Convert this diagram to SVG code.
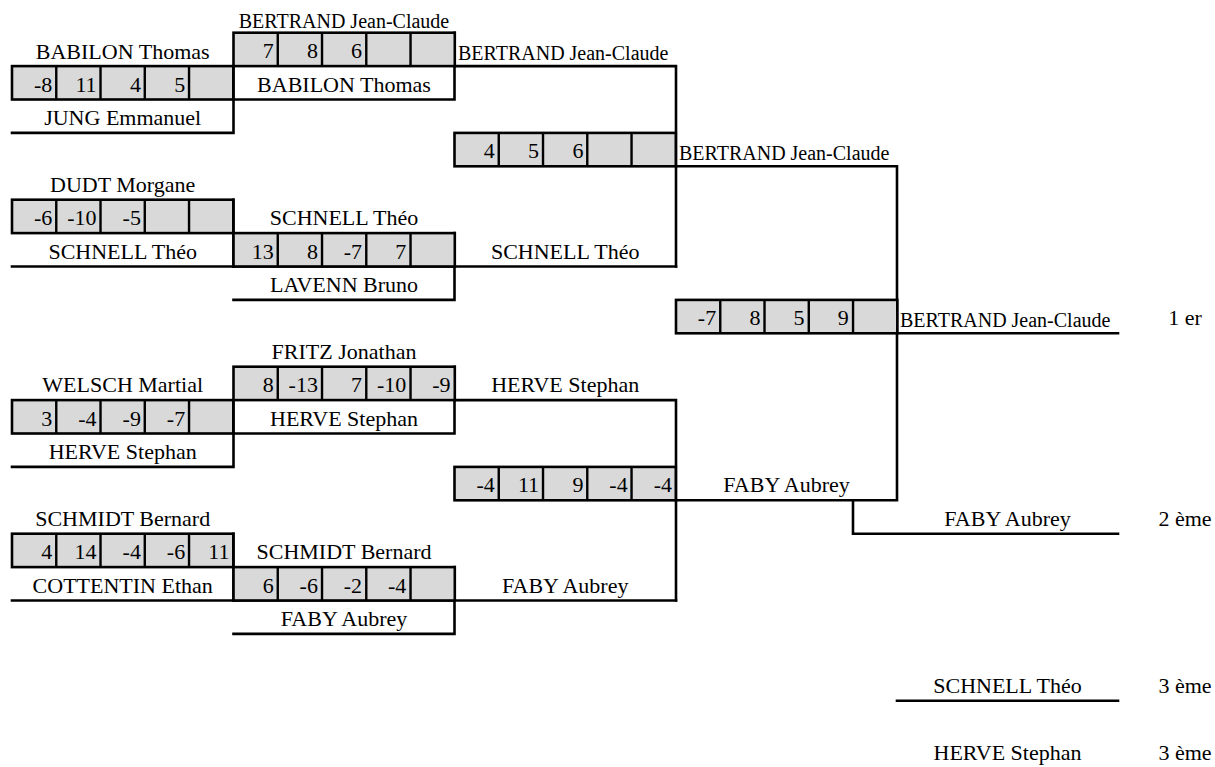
<svg xmlns="http://www.w3.org/2000/svg" xmlns:xlink="http://www.w3.org/1999/xlink" width="1215" height="767" viewBox="0 0 1215 767">
<defs>
<style>
.t{font-family:'Liberation Serif','Times New Roman',Times,serif;font-size:22px;fill:#000}
.s{font-size:20px}
.c{text-anchor:middle}
.n{text-anchor:end}
.ln{fill:none;stroke:#000;stroke-width:2.6;stroke-linecap:square;stroke-linejoin:miter}
.box{fill:#d9d9d9;stroke:#000;stroke-width:2.6}
.div{stroke:#000;stroke-width:2.4}
</style>
<g id="cells">
<rect class="box" x="0" y="0" width="221.3" height="33.4"/>
<path class="div" d="M44.26 0V33.4M88.52 0V33.4M132.78 0V33.4M177.04 0V33.4"/>
</g>
</defs>
<rect width="1215" height="767" fill="#fff"/>

<g id="connectors">
<path class="ln" d="M12 132.9H233.5V66.1"/>
<path class="ln" d="M12 266.5H676"/>
<path class="ln" d="M233.5 199.7V266.5"/>
<path class="ln" d="M12 466.9H233.5V400.1"/>
<path class="ln" d="M12 600.5H676"/>
<path class="ln" d="M233.5 533.7V600.5"/>
<path class="ln" d="M233.5 99.5H454.5V32.7"/>
<path class="ln" d="M233.5 299.9H454.5V233.1"/>
<path class="ln" d="M233.5 433.5H454.5V366.7"/>
<path class="ln" d="M233.5 633.9H454.5V567.1"/>
<path class="ln" d="M454.5 66.1H676V266.5"/>
<path class="ln" d="M454.5 400.1H676V600.5"/>
<path class="ln" d="M676 166.3H897V500.3H676"/>
<path class="ln" d="M897 333.3H1118"/>
<path class="ln" d="M853 500.3V533.7H1118"/>
<path class="ln" d="M897 700.7H1118"/>
</g>

<g id="r1-m1">
<text class="t c" x="122.7" y="58.6">BABILON Thomas</text>
<use xlink:href="#cells" x="12" y="66.1"/>
<text class="t n" x="52.3" y="91.6">-8</text>
<text class="t n" x="96.6" y="91.6">11</text>
<text class="t n" x="140.9" y="91.6">4</text>
<text class="t n" x="185.2" y="91.6">5</text>
<text class="t c" x="122.7" y="124.5">JUNG Emmanuel</text>
</g>

<g id="r1-m2">
<text class="t c" x="122.7" y="191.8">DUDT Morgane</text>
<use xlink:href="#cells" x="12" y="199.7"/>
<text class="t n" x="52.3" y="225.2">-6</text>
<text class="t n" x="96.6" y="225.2">-10</text>
<text class="t n" x="140.9" y="225.2">-5</text>
<text class="t c" x="122.7" y="258.6">SCHNELL Théo</text>
</g>

<g id="r1-m3">
<text class="t c" x="122.7" y="392.2">WELSCH Martial</text>
<use xlink:href="#cells" x="12" y="400.1"/>
<text class="t n" x="52.3" y="425.6">3</text>
<text class="t n" x="96.6" y="425.6">-4</text>
<text class="t n" x="140.9" y="425.6">-9</text>
<text class="t n" x="185.2" y="425.6">-7</text>
<text class="t c" x="122.7" y="459">HERVE Stephan</text>
</g>

<g id="r1-m4">
<text class="t c" x="122.7" y="525.8">SCHMIDT Bernard</text>
<use xlink:href="#cells" x="12" y="533.7"/>
<text class="t n" x="52.3" y="559.2">4</text>
<text class="t n" x="96.6" y="559.2">14</text>
<text class="t n" x="140.9" y="559.2">-4</text>
<text class="t n" x="185.2" y="559.2">-6</text>
<text class="t n" x="229.5" y="559.2">11</text>
<text class="t c" x="122.7" y="592.6">COTTENTIN Ethan</text>
</g>

<g id="r2-m1">
<text class="t s c" x="344" y="27.5">BERTRAND Jean-Claude</text>
<use xlink:href="#cells" x="233.5" y="32.7"/>
<text class="t n" x="273.7" y="58.2">7</text>
<text class="t n" x="317.9" y="58.2">8</text>
<text class="t n" x="362.1" y="58.2">6</text>
<text class="t c" x="344" y="91.6">BABILON Thomas</text>
</g>

<g id="r2-m2">
<text class="t c" x="344" y="225.2">SCHNELL Théo</text>
<use xlink:href="#cells" x="233.5" y="233.1"/>
<text class="t n" x="273.7" y="258.6">13</text>
<text class="t n" x="317.9" y="258.6">8</text>
<text class="t n" x="362.1" y="258.6">-7</text>
<text class="t n" x="406.3" y="258.6">7</text>
<text class="t c" x="344" y="292">LAVENN Bruno</text>
</g>

<g id="r2-m3">
<text class="t c" x="344" y="358.8">FRITZ Jonathan</text>
<use xlink:href="#cells" x="233.5" y="366.7"/>
<text class="t n" x="273.7" y="392.2">8</text>
<text class="t n" x="317.9" y="392.2">-13</text>
<text class="t n" x="362.1" y="392.2">7</text>
<text class="t n" x="406.3" y="392.2">-10</text>
<text class="t n" x="450.5" y="392.2">-9</text>
<text class="t c" x="344" y="425.6">HERVE Stephan</text>
</g>

<g id="r2-m4">
<text class="t c" x="344" y="559.2">SCHMIDT Bernard</text>
<use xlink:href="#cells" x="233.5" y="567.1"/>
<text class="t n" x="273.7" y="592.6">6</text>
<text class="t n" x="317.9" y="592.6">-6</text>
<text class="t n" x="362.1" y="592.6">-2</text>
<text class="t n" x="406.3" y="592.6">-4</text>
<text class="t c" x="344" y="626">FABY Aubrey</text>
</g>

<g id="r3-m1">
<text class="t s" x="458" y="60.2">BERTRAND Jean-Claude</text>
<use xlink:href="#cells" x="454.5" y="132.9"/>
<text class="t n" x="494.8" y="158.4">4</text>
<text class="t n" x="539.1" y="158.4">5</text>
<text class="t n" x="583.4" y="158.4">6</text>
<text class="t c" x="565.2" y="258.6">SCHNELL Théo</text>
</g>

<g id="r3-m2">
<text class="t c" x="565.2" y="392.2">HERVE Stephan</text>
<use xlink:href="#cells" x="454.5" y="466.9"/>
<text class="t n" x="494.8" y="492.4">-4</text>
<text class="t n" x="539.1" y="492.4">11</text>
<text class="t n" x="583.4" y="492.4">9</text>
<text class="t n" x="627.7" y="492.4">-4</text>
<text class="t n" x="672" y="492.4">-4</text>
<text class="t c" x="565.2" y="592.6">FABY Aubrey</text>
</g>

<g id="final">
<text class="t s" x="679" y="160.4">BERTRAND Jean-Claude</text>
<use xlink:href="#cells" x="676" y="299.9"/>
<text class="t n" x="716.2" y="325.4">-7</text>
<text class="t n" x="760.4" y="325.4">8</text>
<text class="t n" x="804.6" y="325.4">5</text>
<text class="t n" x="848.8" y="325.4">9</text>
<text class="t c" x="786.5" y="492.4">FABY Aubrey</text>
</g>

<g id="rank-1">
<text class="t s" x="900" y="327.4">BERTRAND Jean-Claude</text>
<text class="t c" x="1185" y="325.4">1 er</text>
</g>

<g id="rank-2">
<text class="t c" x="1007.5" y="525.8">FABY Aubrey</text>
<text class="t c" x="1185" y="525.8">2 ème</text>
</g>

<g id="rank-3a">
<text class="t c" x="1007.5" y="692.8">SCHNELL Théo</text>
<text class="t c" x="1185" y="692.8">3 ème</text>
</g>

<g id="rank-3b">
<text class="t c" x="1007.5" y="759.6">HERVE Stephan</text>
<text class="t c" x="1185" y="759.6">3 ème</text>
</g>
</svg>
